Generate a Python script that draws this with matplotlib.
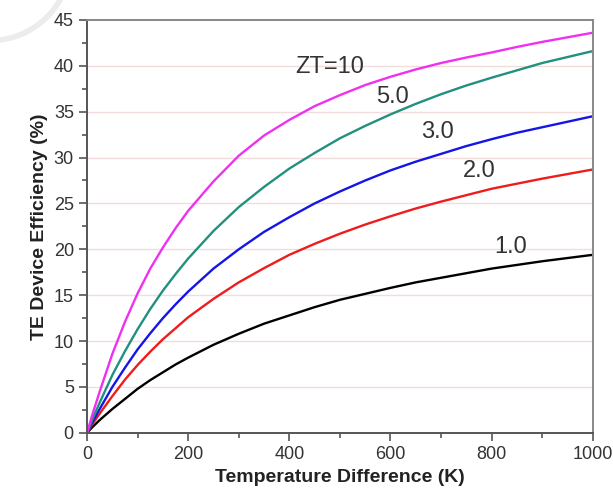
import matplotlib
matplotlib.use("Agg")
from matplotlib import pyplot as plt
from matplotlib.patches import Circle

plt.rcParams['font.family'] = ['Liberation Sans', 'DejaVu Sans']

# temperature difference [K]
dT = [0, 10, 25, 50, 75, 100, 125, 150, 175, 200, 250, 300, 350, 400, 450,
      500, 550, 600, 650, 700, 750, 800, 850, 900, 950, 1000]
# efficiency [%]
eff_zt1 = [0, 0.6, 1.4, 2.6, 3.7, 4.8, 5.75, 6.6, 7.45, 8.2, 9.6, 10.8, 11.9, 12.8, 13.7,
           14.5, 15.15, 15.8, 16.4, 16.9, 17.4, 17.9, 18.3, 18.7, 19.05, 19.4]
eff_zt2 = [0, 0.9, 2.1, 4.0, 5.8, 7.4, 8.85, 10.2, 11.4, 12.6, 14.6, 16.4, 17.95, 19.4, 20.6,
           21.7, 22.7, 23.6, 24.45, 25.2, 25.9, 26.6, 27.15, 27.7, 28.2, 28.7]
eff_zt3 = [0, 1.1, 2.6, 5.0, 7.1, 9.1, 10.85, 12.5, 14.0, 15.4, 17.9, 20.0, 21.9, 23.5, 25.0,
           26.3, 27.5, 28.6, 29.55, 30.4, 31.25, 32.0, 32.7, 33.3, 33.9, 34.5]
eff_zt5 = [0, 1.4, 3.3, 6.3, 8.9, 11.3, 13.5, 15.5, 17.3, 19.0, 22.0, 24.6, 26.8, 28.8, 30.5,
           32.1, 33.45, 34.7, 35.85, 36.9, 37.85, 38.7, 39.5, 40.3, 40.95, 41.6]
eff_zt10 = [0, 1.9, 4.5, 8.6, 12.1, 15.2, 17.9, 20.2, 22.3, 24.2, 27.4, 30.2, 32.4, 34.1, 35.6,
            36.8, 37.9, 38.8, 39.6, 40.3, 40.9, 41.45, 42.05, 42.6, 43.1, 43.6]

labels = ["1.0", "2.0", "3.0", "5.0", "ZT=10"]
label_x = [838, 775, 693, 604, 480]
label_y = [20.2, 28.5, 32.8, 36.6, 39.9]

fig = plt.figure(figsize=(6.13, 4.97), dpi=100)
ax = fig.add_axes([0.142, 0.129, 0.825, 0.831])

ax.plot(dT, eff_zt1, color="black", lw=1.7)
ax.plot(dT, eff_zt2, color="#ee1c1c", lw=1.7)
ax.plot(dT, eff_zt3, color="#1515e6", lw=1.7)
ax.plot(dT, eff_zt5, color="#21907e", lw=1.7)
ax.plot(dT, eff_zt10, color="#f030f0", lw=1.7)

for t, x, y in zip(labels, label_x, label_y):
    ax.text(x, y, t, fontsize=17, color="#333333", ha="center", va="center")

ax.set_xlim(0, 1000)
ax.set_ylim(0, 45)
ax.set_xticks(range(0, 1001, 200))
ax.set_xticks(range(0, 1001, 100), minor=True)
ax.set_yticks(range(0, 46, 5))
ax.set_yticks([i * 2.5 for i in range(19)], minor=True)
for y in range(5, 45, 5):
    ax.axhline(y, color="#f2dcdc", lw=1, zorder=0)

ax.tick_params(which="major", length=6, width=1.2, color="#555555", labelsize=13, labelcolor="#333333")
ax.tick_params(which="minor", length=3.5, width=1.2, color="#555555")
for s in ["left", "bottom"]:
    ax.spines[s].set_color("#555555")
    ax.spines[s].set_linewidth(1.4)
for s in ["top", "right"]:
    ax.spines[s].set_color("#888888")
    ax.spines[s].set_linewidth(1.4)

ax.set_xlabel("Temperature Difference (K)", fontsize=14, fontweight="bold", color="#222222")
ax.set_ylabel("TE Device Efficiency (%)", fontsize=14, fontweight="bold", color="#222222")

# faint watermark ring in the top-left corner
fig.patches.append(Circle((-10, 537), 80.6, transform=None, fill=False,
                          edgecolor="#ececec", lw=4))

fig.savefig("out.png", dpi=100)
